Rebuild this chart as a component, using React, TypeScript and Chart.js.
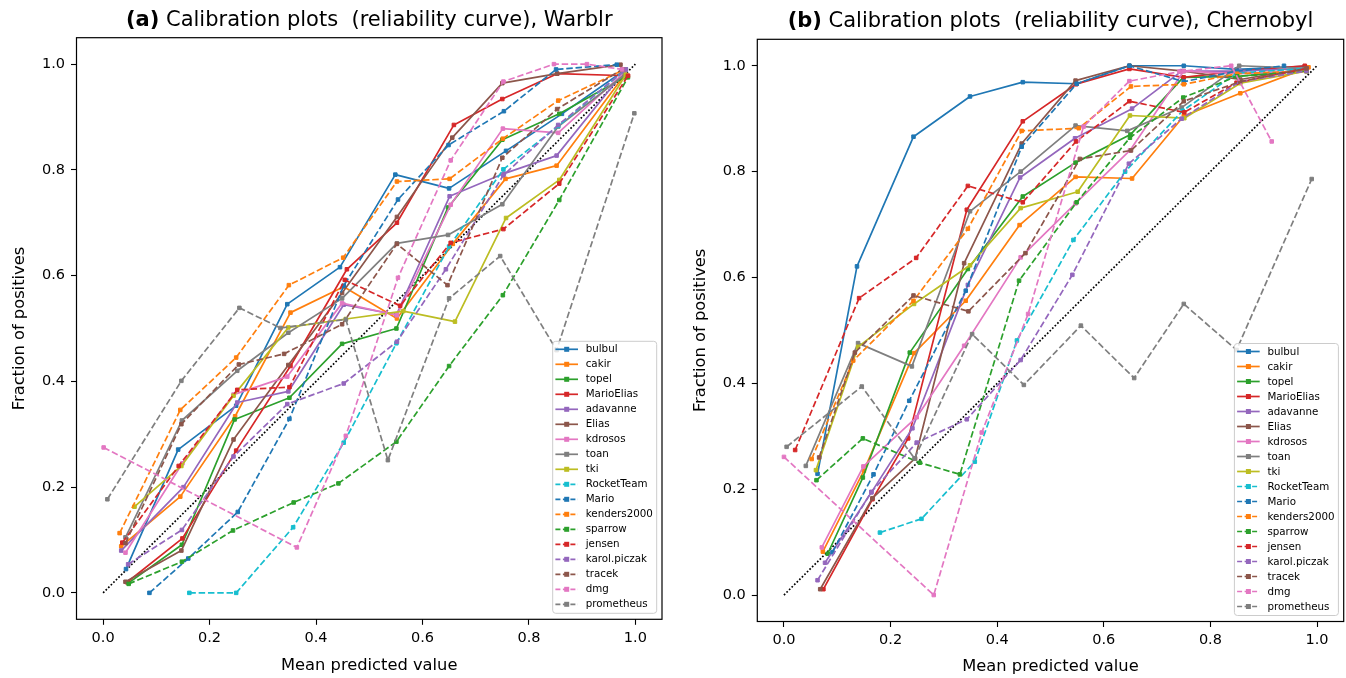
import React, { useEffect, useRef } from "react";
import { Chart, registerables } from "chart.js";

Chart.register(...registerables);

type Pt = [number, number];

const FONT = '"DejaVu Sans", sans-serif';

const SERIES_NAMES = [
  "bulbul", "cakir", "topel", "MarioElias", "adavanne", "Elias", "kdrosos", "toan", "tki",
  "RocketTeam", "Mario", "kenders2000", "sparrow", "jensen", "karol.piczak", "tracek", "dmg", "prometheus",
];
const SERIES_COLORS = [
  "#1f77b4", "#ff7f0e", "#2ca02c", "#d62728", "#9467bd", "#8c564b", "#e377c2", "#7f7f7f", "#bcbd22",
  "#17becf", "#1f77b4", "#ff7f0e", "#2ca02c", "#d62728", "#9467bd", "#8c564b", "#e377c2", "#7f7f7f",
];
const SERIES_DASHED = [
  false, false, false, false, false, false, false, false, false,
  true, true, true, true, true, true, true, true, true,
];

const X_TICKS = [0, 0.2, 0.4, 0.6, 0.8, 1.0];
const Y_TICKS = [0, 0.2, 0.4, 0.6, 0.8, 1.0];
const DIAGONAL: Pt[] = [[0, 0], [1, 1]];

// ---------- (a) Warblr ----------
const wBulbul: Pt[] = [[0.043, 0.045], [0.141, 0.271], [0.250, 0.354], [0.346, 0.546], [0.445, 0.616], [0.549, 0.791], [0.650, 0.765], [0.757, 0.836], [0.862, 0.906], [0.975, 0.985]];
const wCakir: Pt[] = [[0.034, 0.088], [0.145, 0.182], [0.248, 0.334], [0.352, 0.530], [0.452, 0.579], [0.552, 0.519], [0.657, 0.660], [0.756, 0.783], [0.852, 0.808], [0.980, 0.980]];
const wTopel: Pt[] = [[0.048, 0.019], [0.148, 0.091], [0.247, 0.328], [0.350, 0.369], [0.449, 0.471], [0.551, 0.500], [0.648, 0.729], [0.750, 0.857], [0.857, 0.906], [0.980, 0.975]];
const wMarioElias: Pt[] = [[0.045, 0.020], [0.149, 0.103], [0.250, 0.269], [0.352, 0.429], [0.458, 0.612], [0.552, 0.700], [0.659, 0.885], [0.750, 0.934], [0.853, 0.982], [0.986, 0.978]];
const wAdavanne: Pt[] = [[0.034, 0.080], [0.151, 0.200], [0.252, 0.360], [0.348, 0.381], [0.452, 0.545], [0.551, 0.526], [0.651, 0.750], [0.753, 0.793], [0.852, 0.827], [0.982, 0.990]];
const wElias: Pt[] = [[0.042, 0.021], [0.147, 0.080], [0.245, 0.290], [0.348, 0.431], [0.449, 0.567], [0.552, 0.711], [0.656, 0.861], [0.750, 0.964], [0.853, 0.982], [0.972, 0.999]];
const wKdrosos: Pt[] = [[0.042, 0.076], [0.149, 0.245], [0.245, 0.375], [0.346, 0.409], [0.449, 0.548], [0.552, 0.525], [0.653, 0.734], [0.751, 0.878], [0.855, 0.870], [0.980, 0.985]];
const wToan: Pt[] = [[0.042, 0.105], [0.148, 0.326], [0.252, 0.420], [0.348, 0.492], [0.449, 0.557], [0.552, 0.661], [0.648, 0.677], [0.750, 0.735], [0.855, 0.882], [0.980, 0.980]];
const wTki: Pt[] = [[0.059, 0.163], [0.147, 0.240], [0.245, 0.373], [0.348, 0.502], [0.456, 0.518], [0.564, 0.533], [0.661, 0.513], [0.757, 0.709], [0.857, 0.781], [0.982, 0.980]];
const wRocketTeam: Pt[] = [[0.162, 0.0], [0.250, 0.0], [0.357, 0.124], [0.452, 0.284], [0.551, 0.472], [0.650, 0.655], [0.752, 0.801], [0.855, 0.883], [0.982, 0.990]];
const wMario: Pt[] = [[0.087, 0.0], [0.160, 0.065], [0.253, 0.153], [0.350, 0.329], [0.452, 0.581], [0.554, 0.744], [0.649, 0.847], [0.753, 0.911], [0.851, 0.990], [0.965, 0.999]];
const wKenders2000: Pt[] = [[0.031, 0.113], [0.145, 0.346], [0.250, 0.445], [0.349, 0.582], [0.451, 0.634], [0.552, 0.778], [0.651, 0.783], [0.751, 0.859], [0.855, 0.931], [0.980, 0.990]];
const wSparrow: Pt[] = [[0.048, 0.017], [0.148, 0.059], [0.244, 0.118], [0.358, 0.171], [0.442, 0.207], [0.551, 0.286], [0.650, 0.429], [0.751, 0.563], [0.857, 0.743], [0.986, 0.975]];
const wJensen: Pt[] = [[0.036, 0.095], [0.142, 0.240], [0.252, 0.384], [0.350, 0.389], [0.454, 0.592], [0.558, 0.543], [0.653, 0.662], [0.752, 0.688], [0.857, 0.774], [0.986, 0.978]];
const wKarolPiczak: Pt[] = [[0.047, 0.054], [0.148, 0.119], [0.245, 0.258], [0.346, 0.357], [0.452, 0.396], [0.552, 0.475], [0.644, 0.612], [0.752, 0.790], [0.855, 0.885], [0.982, 0.990]];
const wTracek: Pt[] = [[0.042, 0.094], [0.147, 0.319], [0.255, 0.432], [0.340, 0.452], [0.449, 0.508], [0.552, 0.660], [0.647, 0.582], [0.750, 0.823], [0.853, 0.915], [0.975, 0.990]];
const wDmg: Pt[] = [[0.001, 0.275], [0.364, 0.086], [0.456, 0.297], [0.554, 0.596], [0.653, 0.818], [0.752, 0.967], [0.847, 1.0], [0.909, 1.0], [0.975, 0.990]];
const wPrometheus: Pt[] = [[0.008, 0.177], [0.147, 0.401], [0.256, 0.539], [0.333, 0.501], [0.456, 0.517], [0.535, 0.251], [0.650, 0.557], [0.746, 0.637], [0.852, 0.459], [0.998, 0.907]];

const WARBLR: Pt[][] = [
  wBulbul, wCakir, wTopel, wMarioElias, wAdavanne, wElias, wKdrosos, wToan, wTki,
  wRocketTeam, wMario, wKenders2000, wSparrow, wJensen, wKarolPiczak, wTracek, wDmg, wPrometheus,
];

// ---------- (b) Chernobyl ----------
const cBulbul: Pt[] = [[0.063, 0.229], [0.137, 0.621], [0.243, 0.866], [0.349, 0.942], [0.448, 0.969], [0.549, 0.966], [0.648, 1.0], [0.750, 1.0], [0.849, 0.993], [0.977, 0.999]];
const cCakir: Pt[] = [[0.073, 0.082], [0.150, 0.235], [0.244, 0.457], [0.341, 0.556], [0.442, 0.699], [0.547, 0.790], [0.653, 0.787], [0.750, 0.905], [0.856, 0.948], [0.984, 0.997]];
const cTopel: Pt[] = [[0.082, 0.078], [0.148, 0.222], [0.236, 0.458], [0.345, 0.616], [0.448, 0.753], [0.547, 0.817], [0.650, 0.870], [0.749, 0.978], [0.850, 0.980], [0.979, 0.991]];
const cMarioElias: Pt[] = [[0.074, 0.011], [0.166, 0.181], [0.233, 0.296], [0.343, 0.728], [0.448, 0.895], [0.548, 0.965], [0.648, 0.994], [0.750, 0.978], [0.850, 0.990], [0.977, 1.0]];
const cAdavanne: Pt[] = [[0.077, 0.061], [0.164, 0.194], [0.241, 0.315], [0.345, 0.586], [0.443, 0.789], [0.546, 0.863], [0.653, 0.919], [0.746, 0.990], [0.856, 0.990], [0.980, 0.995]];
const cElias: Pt[] = [[0.068, 0.011], [0.166, 0.183], [0.246, 0.258], [0.338, 0.627], [0.446, 0.853], [0.547, 0.972], [0.648, 1.0], [0.750, 0.990], [0.856, 0.974], [0.977, 0.995]];
const cKdrosos: Pt[] = [[0.071, 0.090], [0.149, 0.243], [0.249, 0.336], [0.338, 0.471], [0.444, 0.638], [0.547, 0.740], [0.649, 0.840], [0.750, 0.990], [0.850, 0.985], [0.980, 0.990]];
const cToan: Pt[] = [[0.041, 0.244], [0.139, 0.476], [0.240, 0.432], [0.349, 0.725], [0.444, 0.800], [0.547, 0.887], [0.644, 0.877], [0.746, 0.921], [0.854, 1.0], [0.980, 0.995]];
const cTki: Pt[] = [[0.060, 0.236], [0.139, 0.469], [0.244, 0.550], [0.349, 0.623], [0.444, 0.731], [0.551, 0.762], [0.649, 0.906], [0.751, 0.901], [0.856, 0.967], [0.980, 0.990]];
const cRocketTeam: Pt[] = [[0.180, 0.118], [0.258, 0.144], [0.358, 0.252], [0.437, 0.481], [0.543, 0.671], [0.640, 0.800], [0.748, 0.915], [0.849, 0.986], [0.980, 0.995]];
const cMario: Pt[] = [[0.091, 0.081], [0.168, 0.228], [0.235, 0.367], [0.341, 0.575], [0.446, 0.847], [0.549, 0.966], [0.648, 1.0], [0.750, 0.970], [0.850, 0.990], [0.938, 1.0]];
const cKenders2000: Pt[] = [[0.052, 0.257], [0.130, 0.443], [0.243, 0.556], [0.345, 0.692], [0.446, 0.877], [0.553, 0.882], [0.651, 0.961], [0.750, 0.965], [0.850, 0.985], [0.980, 0.990]];
const cSparrow: Pt[] = [[0.061, 0.217], [0.148, 0.296], [0.255, 0.250], [0.330, 0.228], [0.441, 0.594], [0.549, 0.742], [0.649, 0.864], [0.749, 0.940], [0.850, 0.980], [0.980, 0.990]];
const cJensen: Pt[] = [[0.021, 0.274], [0.141, 0.561], [0.248, 0.637], [0.345, 0.773], [0.448, 0.742], [0.548, 0.857], [0.648, 0.933], [0.751, 0.912], [0.849, 0.968], [0.980, 0.995]];
const cKarolPiczak: Pt[] = [[0.063, 0.028], [0.164, 0.195], [0.249, 0.288], [0.343, 0.332], [0.444, 0.444], [0.541, 0.605], [0.647, 0.815], [0.746, 0.900], [0.855, 0.970], [0.980, 0.990]];
const cTracek: Pt[] = [[0.066, 0.260], [0.133, 0.458], [0.243, 0.566], [0.346, 0.536], [0.453, 0.646], [0.555, 0.824], [0.651, 0.840], [0.750, 0.933], [0.856, 0.970], [0.980, 0.995]];
const cDmg: Pt[] = [[0.0, 0.261], [0.281, 0.0], [0.371, 0.307], [0.458, 0.531], [0.562, 0.885], [0.648, 0.971], [0.742, 0.989], [0.839, 1.0], [0.915, 0.857]];
const cPrometheus: Pt[] = [[0.005, 0.280], [0.146, 0.394], [0.245, 0.258], [0.353, 0.493], [0.450, 0.397], [0.557, 0.509], [0.657, 0.410], [0.750, 0.550], [0.849, 0.463], [0.990, 0.786]];

const CHERNOBYL: Pt[][] = [
  cBulbul, cCakir, cTopel, cMarioElias, cAdavanne, cElias, cKdrosos, cToan, cTki,
  cRocketTeam, cMario, cKenders2000, cSparrow, cJensen, cKarolPiczak, cTracek, cDmg, cPrometheus,
];

const DASH = [6.5, 2.8];

interface Area { left: number; top: number; right: number; bottom: number; }

interface Props {
  series: Pt[][];
  prefix: string;
  rest: string;
  width: number;
  height: number;
  area: Area;
  yLabelX: number;
  titleY: number;
  xLabelY: number;
}

function roundRectPath(ctx: CanvasRenderingContext2D, x: number, y: number, w: number, h: number, r: number) {
  ctx.beginPath();
  ctx.moveTo(x + r, y);
  ctx.lineTo(x + w - r, y);
  ctx.arcTo(x + w, y, x + w, y + r, r);
  ctx.lineTo(x + w, y + h - r);
  ctx.arcTo(x + w, y + h, x + w - r, y + h, r);
  ctx.lineTo(x + r, y + h);
  ctx.arcTo(x, y + h, x, y + h - r, r);
  ctx.lineTo(x, y + r);
  ctx.arcTo(x, y, x + r, y, r);
  ctx.closePath();
}

function CalibrationChart(props: Props) {
  const ref = useRef<HTMLCanvasElement | null>(null);

  useEffect(() => {
    const canvas = ref.current;
    if (!canvas) return;
    const { area, width, height } = props;
    const n = props.series.length;

    const datasets: any[] = props.series.map((pts, i) => ({
      label: SERIES_NAMES[i],
      data: pts.map(([x, y]) => ({ x, y })),
      showLine: true,
      borderColor: SERIES_COLORS[i],
      backgroundColor: SERIES_COLORS[i],
      borderWidth: 1.7,
      borderDash: SERIES_DASHED[i] ? DASH : [],
      borderJoinStyle: "round",
      borderCapStyle: "butt",
      pointStyle: "rect",
      pointRadius: 2.5,
      pointBorderWidth: 1,
      pointBackgroundColor: SERIES_COLORS[i],
      pointBorderColor: SERIES_COLORS[i],
      pointHoverRadius: 2.5,
      tension: 0,
      order: n - i,
    }));
    datasets.push({
      label: "Perfectly calibrated",
      data: DIAGONAL.map(([x, y]) => ({ x, y })),
      showLine: true,
      borderColor: "#000000",
      borderWidth: 1.7,
      borderDash: [1.7, 1.9],
      pointRadius: 0,
      order: 100,
    });

    const decor = {
      id: "decor",
      afterDatasetsDraw(chart: any) {
        const ctx: CanvasRenderingContext2D = chart.ctx;
        const ca = chart.chartArea;
        ctx.save();
        ctx.strokeStyle = "#000";
        ctx.lineWidth = 1.2;
        ctx.setLineDash([]);
        ctx.strokeRect(ca.left, ca.top, ca.right - ca.left, ca.bottom - ca.top);
        ctx.restore();
      },
      afterDraw(chart: any) {
        const ctx: CanvasRenderingContext2D = chart.ctx;
        const ca = chart.chartArea;
        const cx = (ca.left + ca.right) / 2;
        const cy = (ca.top + ca.bottom) / 2;
        ctx.save();
        // title
        ctx.fillStyle = "#000";
        ctx.textBaseline = "alphabetic";
        ctx.textAlign = "left";
        const tsize = 21;
        ctx.font = `bold ${tsize}px ${FONT}`;
        const w1 = ctx.measureText(props.prefix).width;
        ctx.font = `${tsize}px ${FONT}`;
        const w2 = ctx.measureText(props.rest).width;
        const sx = cx - (w1 + w2) / 2;
        ctx.font = `bold ${tsize}px ${FONT}`;
        ctx.fillText(props.prefix, sx, props.titleY);
        ctx.font = `${tsize}px ${FONT}`;
        ctx.fillText(props.rest, sx + w1, props.titleY);
        // axis labels
        ctx.font = `16.3px ${FONT}`;
        ctx.textAlign = "center";
        ctx.textBaseline = "middle";
        ctx.fillText("Mean predicted value", cx, props.xLabelY);
        ctx.save();
        ctx.translate(props.yLabelX, cy);
        ctx.rotate(-Math.PI / 2);
        ctx.fillText("Fraction of positives", 0, 0);
        ctx.restore();

        // legend
        const lw = 104;
        const lh = 272;
        const bx = ca.right - 5.3 - lw;
        const by = ca.bottom - 6 - lh;
        roundRectPath(ctx, bx, by, lw, lh, 3);
        ctx.fillStyle = "rgba(255,255,255,0.8)";
        ctx.fill();
        ctx.strokeStyle = "#cccccc";
        ctx.lineWidth = 1;
        ctx.stroke();
        SERIES_NAMES.forEach((name, i) => {
          const yy = by + 8 + i * 15;
          const col = SERIES_COLORS[i];
          ctx.strokeStyle = col;
          ctx.lineWidth = 1.7;
          ctx.setLineDash(SERIES_DASHED[i] ? [5, 2.5] : []);
          ctx.beginPath();
          ctx.moveTo(bx + 2.7, yy);
          ctx.lineTo(bx + 25.3, yy);
          ctx.stroke();
          ctx.setLineDash([]);
          ctx.fillStyle = col;
          ctx.fillRect(bx + 14 - 2.5, yy - 2.5, 5, 5);
          ctx.fillStyle = "#000";
          ctx.font = `10.3px ${FONT}`;
          ctx.textAlign = "left";
          ctx.textBaseline = "middle";
          ctx.fillText(name, bx + 33, yy + 0.5);
        });
        ctx.restore();
      },
    };

    const tickFont = { family: FONT, size: 14.5 };

    const chart = new Chart(canvas, {
      type: "scatter",
      data: { datasets },
      options: {
        responsive: false,
        maintainAspectRatio: false,
        animation: false,
        devicePixelRatio: 1,
        events: [],
        layout: {
          autoPadding: false,
          padding: { left: 0, top: area.top, right: width - area.right, bottom: 0 },
        },
        plugins: {
          legend: { display: false },
          tooltip: { enabled: false },
          title: { display: false },
        },
        scales: {
          x: {
            type: "linear",
            min: -0.05,
            max: 1.05,
            afterBuildTicks: (s: any) => {
              s.ticks = X_TICKS.map((v) => ({ value: v }));
            },
            afterFit: (s: any) => {
              s.height = height - area.bottom;
            },
            ticks: {
              callback: (v: any) => Number(v).toFixed(1),
              font: tickFont,
              color: "#000",
              padding: 5,
              maxRotation: 0,
              autoSkip: false,
            },
            grid: {
              display: true,
              drawOnChartArea: false,
              drawTicks: true,
              tickLength: 5.5,
              tickColor: "#000",
              tickWidth: 1.1,
            },
            border: { display: false },
          },
          y: {
            type: "linear",
            min: -0.05,
            max: 1.05,
            afterBuildTicks: (s: any) => {
              s.ticks = Y_TICKS.map((v) => ({ value: v }));
            },
            afterFit: (s: any) => {
              s.width = area.left;
            },
            ticks: {
              callback: (v: any) => Number(v).toFixed(1),
              font: tickFont,
              color: "#000",
              padding: 6,
              autoSkip: false,
            },
            grid: {
              display: true,
              drawOnChartArea: false,
              drawTicks: true,
              tickLength: 5.5,
              tickColor: "#000",
              tickWidth: 1.1,
            },
            border: { display: false },
          },
        },
      } as any,
      plugins: [decor],
    });

    return () => {
      chart.destroy();
    };
  }, []);

  return (
    <canvas
      ref={ref}
      width={props.width}
      height={props.height}
      style={{ display: "block", width: props.width, height: props.height }}
    />
  );
}

export default function App() {
  return (
    <div
      style={{
        position: "absolute",
        left: 0,
        top: 0,
        width: 1346,
        height: 678,
        background: "#fff",
        overflow: "hidden",
      }}
    >
      <div style={{ position: "absolute", left: 0, top: 0, width: 680, height: 678 }}>
        <CalibrationChart
          series={WARBLR}
          prefix="(a)"
          rest=" Calibration plots  (reliability curve), Warblr"
          width={680}
          height={678}
          area={{ left: 76.5, top: 37.7, right: 662, bottom: 619.3 }}
          yLabelX={20}
          titleY={26}
          xLabelY={666}
        />
      </div>
      <div style={{ position: "absolute", left: 680, top: 0, width: 666, height: 678 }}>
        <CalibrationChart
          series={CHERNOBYL}
          prefix="(b)"
          rest=" Calibration plots  (reliability curve), Chernobyl"
          width={666}
          height={678}
          area={{ left: 77.3, top: 39.3, right: 663.7, bottom: 621.5 }}
          yLabelX={21}
          titleY={27}
          xLabelY={667}
        />
      </div>
    </div>
  );
}
